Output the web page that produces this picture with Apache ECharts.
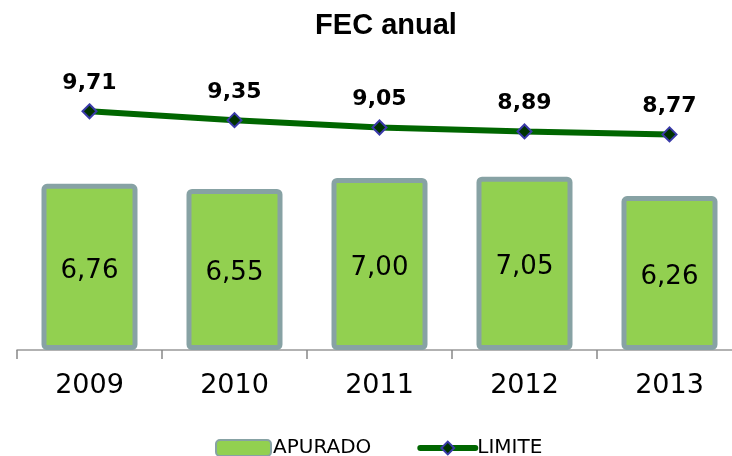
<!DOCTYPE html>
<html>
<head>
<meta charset="utf-8">
<script src="https://cdn.jsdelivr.net/npm/echarts@6/dist/echarts.min.js"></script>
<style>
  html, body { margin: 0; padding: 0; background: #fff; }
  #main { width: 732px; height: 456px; }
</style>
</head>
<body>
<div id="main"></div>
<script>
// dados
const years = ['2009', '2010', '2011', '2012', '2013']
const apurado = [6.76, 6.55, 7.0, 7.05, 6.26]
const limite = [9.71, 9.35, 9.05, 8.89, 8.77]

const fmt = (v) => v.toFixed(2).replace('.', ',')

const chart = echarts.init(document.getElementById('main'))

const option = {
  animation: false,
  title: {
    text: 'FEC anual',
    left: 381,
    textAlign: 'center',
    top: 6,
    textStyle: {
      fontFamily: 'Liberation Sans',
      fontWeight: 'bold',
      fontSize: 29,
      color: '#000',
    },
  },
  legend: {
    left: 215,
    top: 438,
    padding: 0,
    itemWidth: 55,
    itemHeight: 16,
    itemGap: 46,
    textStyle: {
      fontFamily: 'DejaVu Sans',
      fontSize: 20,
      color: '#000',
      padding: [0, 0, 0, -3],
    },
    data: [
      'APURADO',
      { name: 'LIMITE', lineStyle: { width: 6, cap: 'round', color: '#006600' } },
    ],
  },
  grid: {
    left: 17,
    right: -10,
    top: 55,
    bottom: 106,
    outerBoundsMode: 'none',
  },
  xAxis: {
    type: 'category',
    data: years,
    axisLine: { lineStyle: { color: '#999', width: 1.5 } },
    axisTick: { show: true, length: 9, lineStyle: { color: '#888', width: 1.5 } },
    axisLabel: {
      margin: 22,
      fontFamily: 'DejaVu Sans',
      fontSize: 27,
      color: '#000',
    },
  },
  yAxis: {
    type: 'value',
    min: 0,
    max: 12,
    show: false,
    splitLine: { show: false },
  },
  series: [
    {
      name: 'APURADO',
      type: 'bar',
      barWidth: 96,
      data: apurado,
      itemStyle: {
        color: '#92d050',
        borderColor: '#87a2a4',
        borderWidth: 5,
        borderRadius: 3,
      },
      label: {
        show: true,
        position: 'inside',
        offset: [0, 4],
        fontFamily: 'DejaVu Sans',
        fontSize: 26,
        color: '#000',
        formatter: (p) => fmt(p.value),
      },
    },
    {
      name: 'LIMITE',
      type: 'line',
      data: limite,
      symbol: 'diamond',
      symbolSize: 14,
      lineStyle: { color: '#006600', width: 6 },
      itemStyle: {
        color: '#003300',
        borderColor: '#3a3aa8',
        borderWidth: 2,
      },
      label: {
        show: true,
        position: 'top',
        distance: 9,
        fontFamily: 'DejaVu Sans',
        fontWeight: 'bold',
        fontSize: 22,
        color: '#000',
        formatter: (p) => fmt(p.value),
      },
    },
  ],
}

chart.setOption(option)
</script>
</body>
</html>
